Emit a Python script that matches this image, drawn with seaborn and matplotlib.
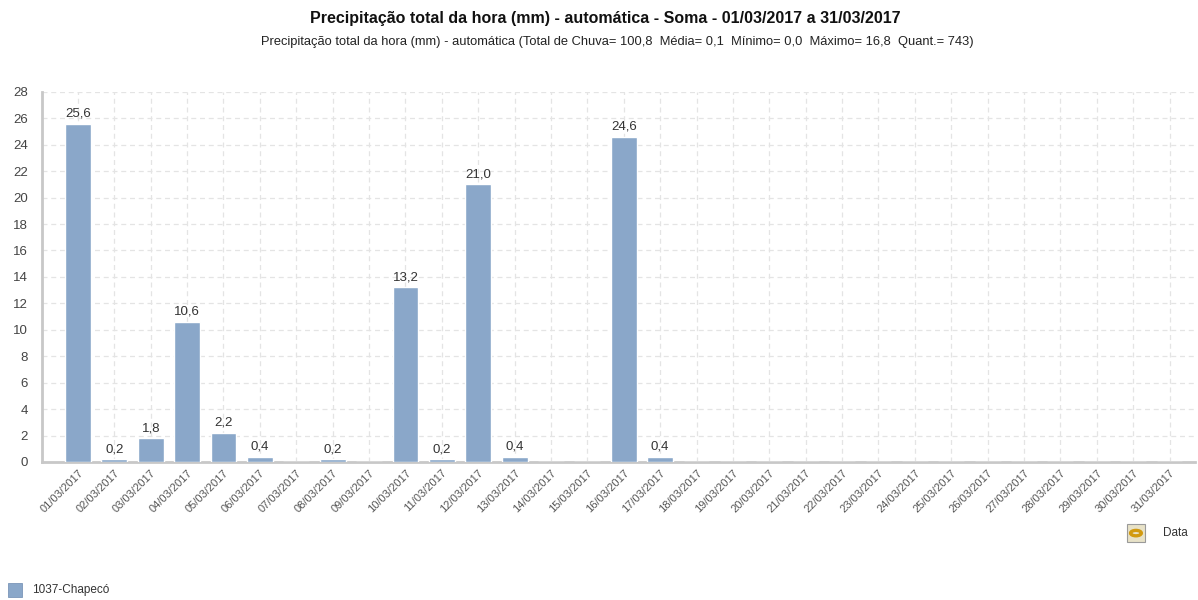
import matplotlib
matplotlib.use("Agg")
import matplotlib.pyplot as plt
import seaborn as sns
import pandas as pd
from matplotlib.patches import Rectangle, Circle

dates = [f"{d:02d}/03/2017" for d in range(1, 32)]
values = [25.6, 0.2, 1.8, 10.6, 2.2, 0.4, 0.0, 0.2, 0.0, 13.2,
          0.2, 21.0, 0.4, 0.0, 0.0, 24.6, 0.4, 0.0, 0.0, 0.0,
          0.0, 0.0, 0.0, 0.0, 0.0, 0.0, 0.0, 0.0, 0.0, 0.0, 0.0]
yticks = list(range(0, 30, 2))
series_name = "1037-Chapecó"
title = "Precipitação total da hora (mm) - automática - Soma - 01/03/2017 a 31/03/2017"
subtitle = ("Precipitação total da hora (mm) - automática (Total de Chuva= 100,8  "
            "Média= 0,1  Mínimo= 0,0  Máximo= 16,8  Quant.= 743)")

sns.set_style("white")
plt.rcParams['font.family'] = ['Liberation Sans', 'DejaVu Sans']

df = pd.DataFrame({"Data": dates, "Valor": values})
bar_color = "#8aa7c9"

fig = plt.figure(figsize=(11.98, 6.0), dpi=100)
ax = fig.add_axes([0.035, 0.23, 0.9625, 0.617])

sns.barplot(data=df, x="Data", y="Valor", color=bar_color, width=0.71,
            saturation=1, ax=ax, zorder=3)

ax.set_xlim(-0.99, 30.7)
ax.set_ylim(0, 28)
ax.set_yticks(yticks)
ax.set_xlabel("")
ax.set_ylabel("")

ax.grid(True, axis="both", linestyle=(0, (4, 3)), color="#e4e4e4", linewidth=0.9, zorder=0)
ax.set_axisbelow(True)

for s in ["top", "right"]:
    ax.spines[s].set_visible(False)
ax.spines["left"].set_color("#c8c8c8")
ax.spines["left"].set_linewidth(2)
ax.spines["bottom"].set_color("#c8c8c8")
ax.spines["bottom"].set_linewidth(2)

ax.tick_params(axis="y", labelsize=9.5, colors="#444444", length=4, width=0.8,
               pad=6)
ax.tick_params(axis="y", color="#dddddd")
ax.tick_params(axis="x", labelsize=8, colors="#555555", length=0, pad=4)
for lbl in ax.get_xticklabels():
    lbl.set_rotation(45)
    lbl.set_ha("right")
    lbl.set_rotation_mode("anchor")

labels = [f"{v:.1f}".replace(".", ",") if v > 0 else "" for v in values]
ax.bar_label(ax.containers[0], labels=labels, padding=3, fontsize=9.5, color="#333333")

fig.text(0.505, 0.970, title, ha="center", va="center", fontsize=11.5,
         fontweight="bold", color="#111111")
fig.text(0.515, 0.930, subtitle, ha="center", va="center", fontsize=9.3,
         color="#222222")

# "Data" label and icon
fig.text(0.981, 0.112, "Data", ha="center", va="center", fontsize=8.5, color="#333333")
fig.patches.append(Rectangle((0.9405, 0.097), 0.0155, 0.029, transform=fig.transFigure,
                             facecolor="#e8e2c8", edgecolor="#9a9a9a", linewidth=0.8))
fig.patches.append(Circle((0.9482, 0.1115), 0.0045, transform=fig.transFigure,
                          facecolor="none", edgecolor="#d29a10", linewidth=2.4))

# legend
fig.patches.append(Rectangle((0.0067, 0.005), 0.0117, 0.024, transform=fig.transFigure,
                             facecolor=bar_color, edgecolor="#7a96b8", linewidth=0.6))
fig.text(0.027, 0.017, series_name, ha="left", va="center", fontsize=8.5, color="#333333")

fig.savefig("out.png", dpi=100)
